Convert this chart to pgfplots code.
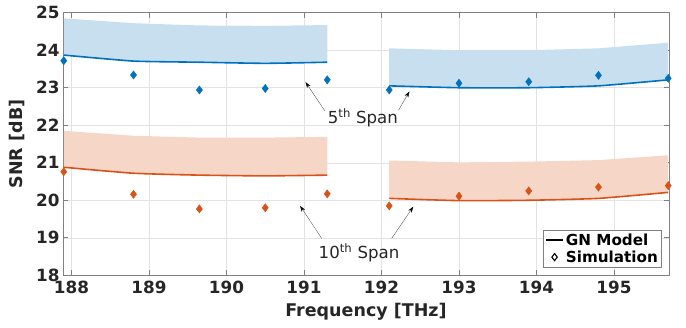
\documentclass[border=0pt]{standalone}
\usepackage{pgfplots}
\pgfplotsset{compat=1.18}
\usepgfplotslibrary{fillbetween}
\usetikzlibrary{arrows.meta}
\usepackage{fontspec}
\setmainfont{DejaVu Sans}
\definecolor{mblue}{rgb}{0,0.447,0.741}
\definecolor{morange}{rgb}{0.85,0.325,0.098}
\definecolor{bfill}{HTML}{C8DFEF}
\definecolor{ofill}{HTML}{F5D6C7}
\definecolor{axgray}{HTML}{808080}
\definecolor{txt}{HTML}{262626}
\begin{document}
\begin{tikzpicture}
\begin{axis}[
  at={(0,0)}, anchor=south west,
  scale only axis, width=606pt, height=262.6pt,
  xmin=187.89, xmax=195.71, ymin=18, ymax=25,
  xtick={188,189,...,195}, ytick={18,19,...,25},
  grid=major, grid style={color=gray!22, line width=0.5pt},
  axis line style={axgray, line width=0.6pt},
  tick style={axgray, line width=0.6pt}, tick align=inside,
  major tick length=5pt,
  /pgf/number format/assume math mode=true,
  /pgf/number format/set thousands separator={},
  ticklabel style={font=\fontsize{16.8}{19}\selectfont\bfseries, text=txt},
  xticklabel style={yshift=-2pt},
  xlabel={Frequency [THz]}, ylabel={SNR [dB]},
  label style={font=\fontsize{17.5}{20}\selectfont\bfseries, text=txt},
  xlabel style={yshift=-3pt},
  ylabel style={yshift=4pt},
  legend style={at={(rel axis cs:0.988,0.03)}, anchor=south east,
    font=\fontsize{15.2}{17}\selectfont\bfseries, draw=axgray, line width=0.6pt,
    inner sep=1.5pt, row sep=0pt},
  legend cell align=left,
  legend image post style={},
  clip=false,
]
% bands (blue, 5th span)
\addplot[name path=bl1, draw=none, forget plot] coordinates {(187.9,23.87) (188.8,23.71) (189.65,23.68) (190.5,23.65) (191.3,23.68)};
\addplot[name path=bu1, draw=none, forget plot] coordinates {(187.9,24.85) (188.8,24.72) (189.65,24.66) (190.5,24.65) (191.3,24.67)};
\addplot[bfill, draw=none, forget plot] fill between[of=bl1 and bu1];
\addplot[name path=bl2, draw=none, forget plot] coordinates {(192.1,23.05) (193.0,23.0) (193.9,23.0) (194.8,23.05) (195.7,23.21)};
\addplot[name path=bu2, draw=none, forget plot] coordinates {(192.1,24.05) (193.0,24.0) (193.9,24.0) (194.8,24.05) (195.7,24.2)};
\addplot[bfill, draw=none, forget plot] fill between[of=bl2 and bu2];
% bands (orange, 10th span)
\addplot[name path=ol1, draw=none, forget plot] coordinates {(187.9,20.88) (188.8,20.72) (189.65,20.67) (190.5,20.65) (191.3,20.67)};
\addplot[name path=ou1, draw=none, forget plot] coordinates {(187.9,21.85) (188.8,21.72) (189.65,21.67) (190.5,21.67) (191.3,21.69)};
\addplot[ofill, draw=none, forget plot] fill between[of=ol1 and ou1];
\addplot[name path=ol2, draw=none, forget plot] coordinates {(192.1,20.05) (193.0,19.99) (193.9,20.0) (194.8,20.05) (195.7,20.21)};
\addplot[name path=ou2, draw=none, forget plot] coordinates {(192.1,21.06) (193.0,21.01) (193.9,21.03) (194.8,21.07) (195.7,21.2)};
\addplot[ofill, draw=none, forget plot] fill between[of=ol2 and ou2];
% GN model lines
\addplot[mblue, line width=1.6pt, smooth, tension=0.3, forget plot] coordinates {(187.9,23.87) (188.8,23.71) (189.65,23.68) (190.5,23.65) (191.3,23.68)};
\addplot[mblue, line width=1.6pt, smooth, tension=0.3, forget plot] coordinates {(192.1,23.05) (193.0,23.0) (193.9,23.0) (194.8,23.05) (195.7,23.21)};
\addplot[morange, line width=1.6pt, smooth, tension=0.3, forget plot] coordinates {(187.9,20.88) (188.8,20.72) (189.65,20.67) (190.5,20.65) (191.3,20.67)};
\addplot[morange, line width=1.6pt, smooth, tension=0.3, forget plot] coordinates {(192.1,20.05) (193.0,19.99) (193.9,20.0) (194.8,20.05) (195.7,20.21)};
% simulation
\addplot[only marks, mark=diamond*, mark size=4.1pt, mblue, forget plot] coordinates {(187.9,23.72) (188.8,23.34) (189.65,22.94) (190.5,22.98) (191.3,23.21) (192.1,22.94) (193.0,23.12) (193.9,23.16) (194.8,23.33) (195.7,23.25)};
\addplot[only marks, mark=diamond*, mark size=4.1pt, morange, forget plot] coordinates {(187.9,20.76) (188.8,20.16) (189.65,19.77) (190.5,19.8) (191.3,20.17) (192.1,19.85) (193.0,20.11) (193.9,20.25) (194.8,20.35) (195.7,20.39)};
% legend
\addlegendimage{black, line width=1.6pt, line legend}
\addlegendentry{GN Model}
\addlegendimage{only marks, mark=diamond, mark size=3.6pt, black, line width=1.1pt}
\addlegendentry{Simulation}
% annotations
\draw[gray!70!black, line width=0.4pt, -{Stealth[length=6pt,width=4pt,black]}] (axis cs:191.27,22.38) -- (axis cs:191.02,23.15);
\draw[gray!70!black, line width=0.4pt, -{Stealth[length=6pt,width=4pt,black]}] (axis cs:192.22,22.40) -- (axis cs:192.36,22.90);
\node[font=\fontsize{16.6}{19}\selectfont, text=txt] at (axis cs:191.76,22.19) {5\textsuperscript{th} Span};
\draw[gray!70!black, line width=0.4pt, -{Stealth[length=6pt,width=4pt,black]}] (axis cs:191.23,18.98) -- (axis cs:190.95,19.85);
\draw[gray!70!black, line width=0.4pt, -{Stealth[length=6pt,width=4pt,black]}] (axis cs:192.13,18.98) -- (axis cs:192.41,19.83);
\node[font=\fontsize{16.6}{19}\selectfont, text=txt] at (axis cs:191.71,18.59) {10\textsuperscript{th} Span};
\end{axis}
\pgfresetboundingbox
\path (-63pt,-52.7pt) rectangle (623pt,275.3pt);
\end{tikzpicture}
\end{document}
